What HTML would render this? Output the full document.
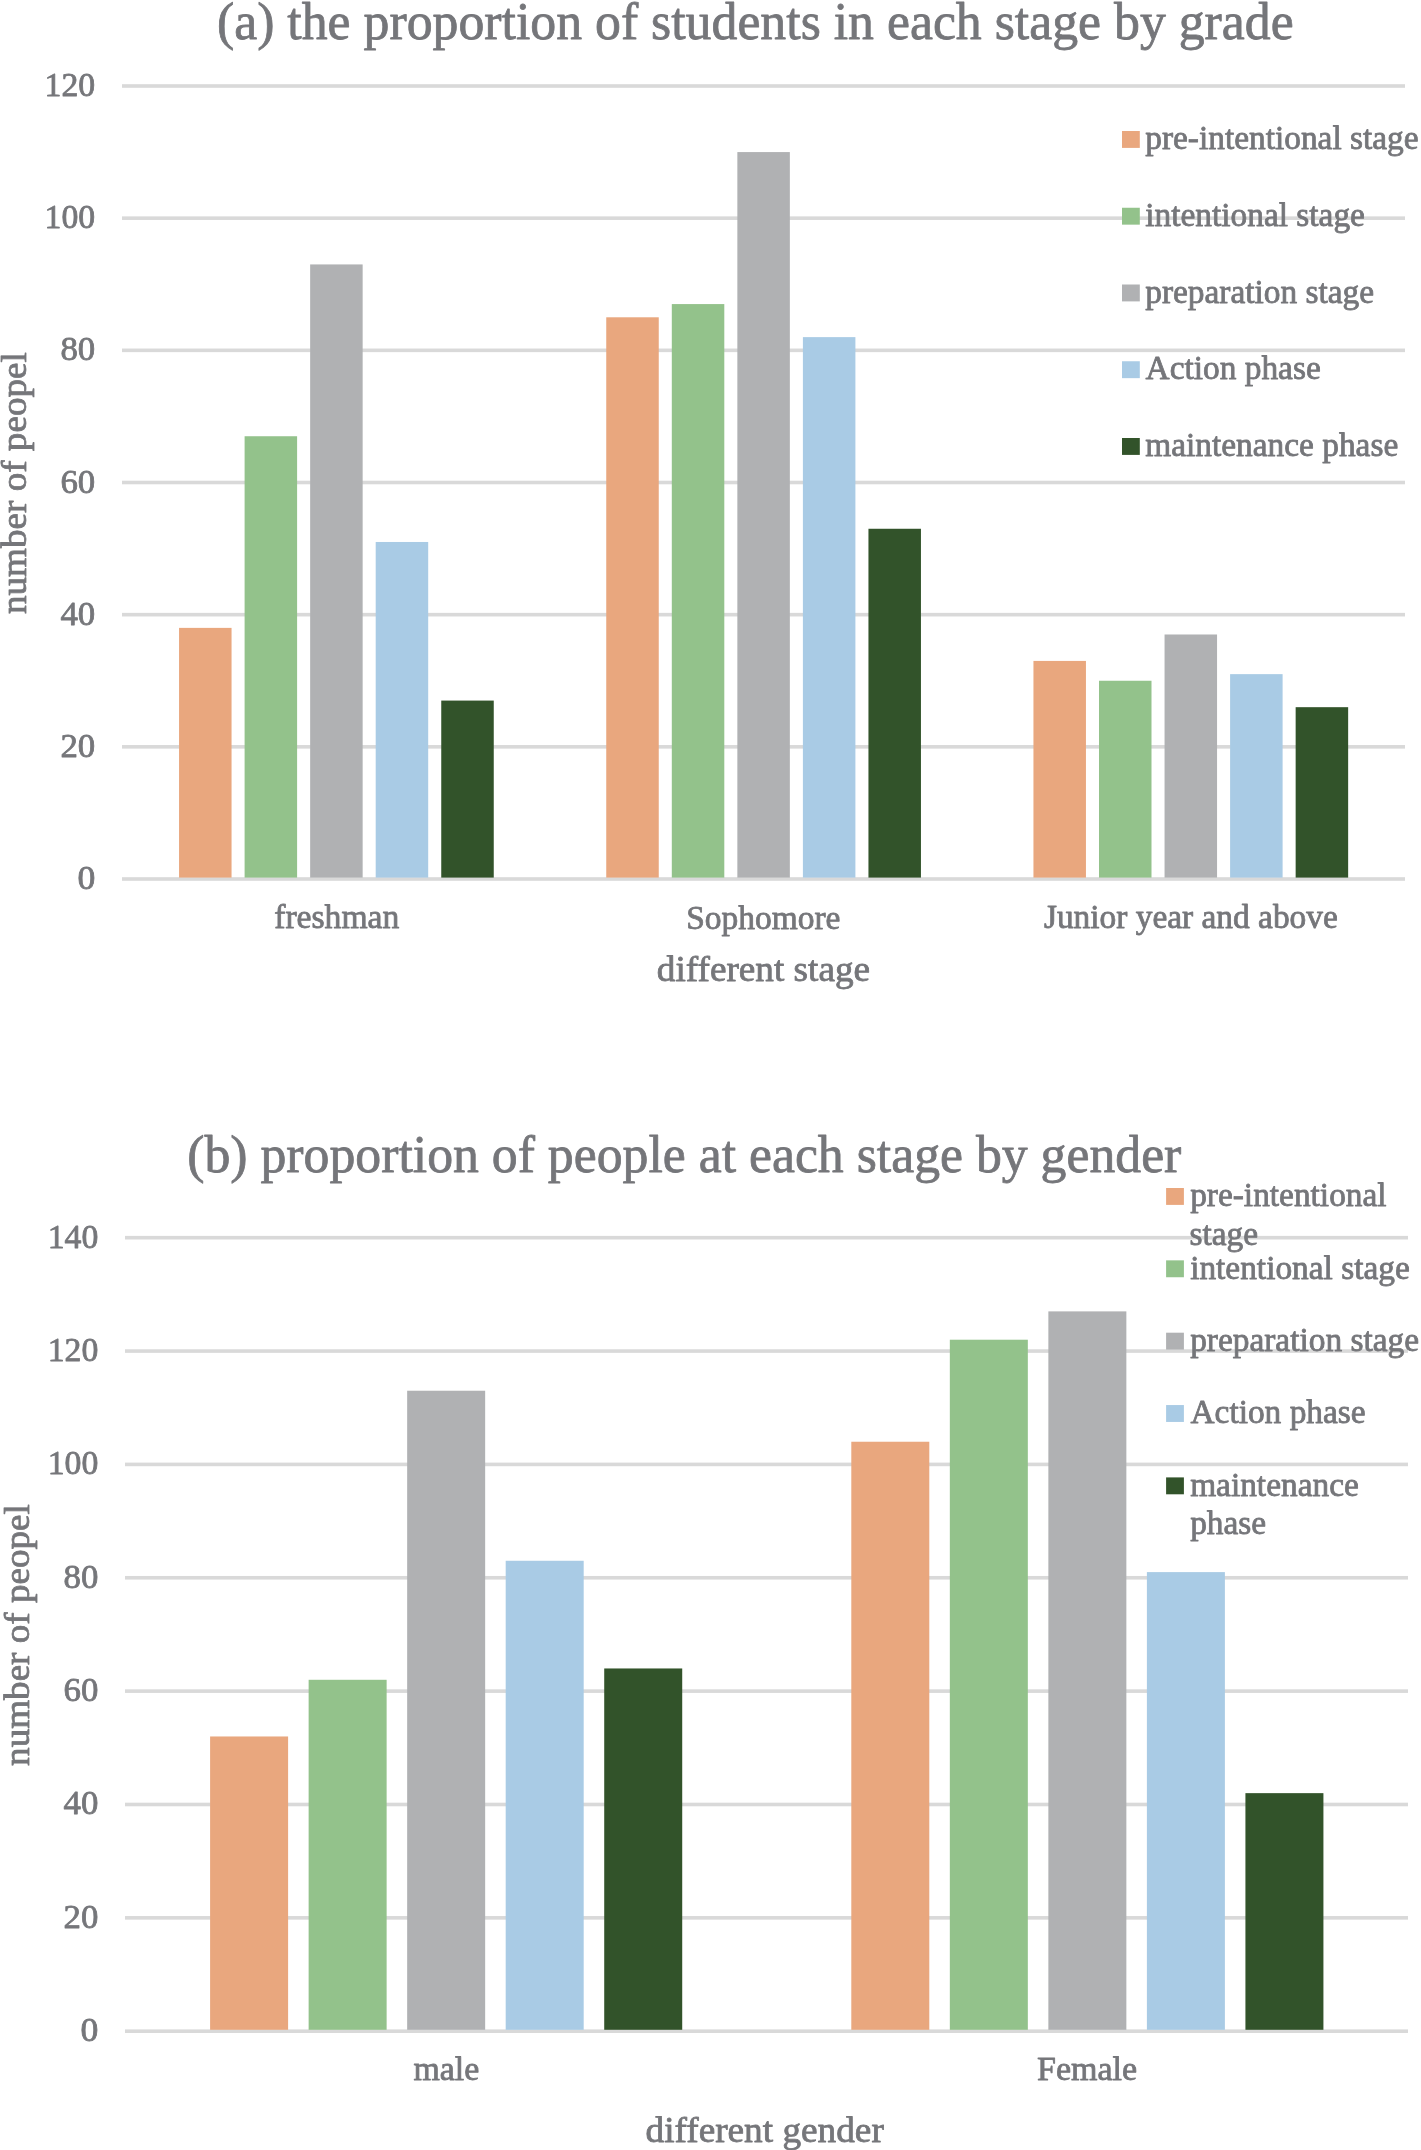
<!DOCTYPE html>
<html><head><meta charset="utf-8"><style>
html,body{margin:0;padding:0;background:#fff;}
body{width:1421px;height:2150px;overflow:hidden;}
svg{display:block;font-family:"Liberation Serif",serif;will-change:transform;}
text{stroke:#75767a;stroke-width:0.8px;stroke-linejoin:round;}
</style></head><body>
<svg width="1421" height="2150" viewBox="0 0 1421 2150">
<rect width="1421" height="2150" fill="#fff"/>
<rect x="122" y="877.20" width="1283" height="3.6" fill="#d9d9d9"/>
<text transform="translate(77.49,889.00) scale(1.0650,1)" font-size="33.5" fill="#75767a">0</text>
<rect x="122" y="745.03" width="1283" height="3.6" fill="#d9d9d9"/>
<text transform="translate(60.45,756.83) scale(1.0400,1)" font-size="33.5" fill="#75767a">20</text>
<rect x="122" y="612.87" width="1283" height="3.6" fill="#d9d9d9"/>
<text transform="translate(60.45,624.67) scale(1.0400,1)" font-size="33.5" fill="#75767a">40</text>
<rect x="122" y="480.70" width="1283" height="3.6" fill="#d9d9d9"/>
<text transform="translate(60.45,492.50) scale(1.0400,1)" font-size="33.5" fill="#75767a">60</text>
<rect x="122" y="348.53" width="1283" height="3.6" fill="#d9d9d9"/>
<text transform="translate(60.45,360.33) scale(1.0400,1)" font-size="33.5" fill="#75767a">80</text>
<rect x="122" y="216.37" width="1283" height="3.6" fill="#d9d9d9"/>
<text transform="translate(44.60,228.17) scale(1.0080,1)" font-size="33.5" fill="#75767a">100</text>
<rect x="122" y="84.20" width="1283" height="3.6" fill="#d9d9d9"/>
<text transform="translate(44.60,96.00) scale(1.0080,1)" font-size="33.5" fill="#75767a">120</text>
<rect x="179.05" y="627.88" width="52.5" height="249.72" fill="#e9a77e"/>
<rect x="244.60" y="436.24" width="52.5" height="441.36" fill="#93c28b"/>
<rect x="310.15" y="264.42" width="52.5" height="613.18" fill="#b0b1b3"/>
<rect x="375.70" y="541.98" width="52.5" height="335.62" fill="#a9cbe5"/>
<rect x="441.25" y="700.58" width="52.5" height="177.02" fill="#32532a"/>
<rect x="606.25" y="317.29" width="52.5" height="560.31" fill="#e9a77e"/>
<rect x="671.80" y="304.08" width="52.5" height="573.52" fill="#93c28b"/>
<rect x="737.35" y="152.08" width="52.5" height="725.52" fill="#b0b1b3"/>
<rect x="802.90" y="337.12" width="52.5" height="540.48" fill="#a9cbe5"/>
<rect x="868.45" y="528.76" width="52.5" height="348.84" fill="#32532a"/>
<rect x="1033.45" y="660.92" width="52.5" height="216.68" fill="#e9a77e"/>
<rect x="1099.00" y="680.75" width="52.5" height="196.85" fill="#93c28b"/>
<rect x="1164.55" y="634.49" width="52.5" height="243.11" fill="#b0b1b3"/>
<rect x="1230.10" y="674.14" width="52.5" height="203.46" fill="#a9cbe5"/>
<rect x="1295.65" y="707.18" width="52.5" height="170.42" fill="#32532a"/>
<text transform="translate(274.19,928.10) scale(1.0015,1)" font-size="33.6" fill="#75767a" >freshman</text>
<text transform="translate(686.16,928.50) scale(0.9958,1)" font-size="33.6" fill="#75767a" >Sophomore</text>
<text transform="translate(1043.93,928.30) scale(0.9939,1)" font-size="33.6" fill="#75767a" >Junior year and above</text>
<text transform="translate(656.81,980.90) scale(1.0202,1)" font-size="36.5" fill="#75767a" >different stage</text>
<text transform="translate(216.93,38.80) scale(0.9865,1)" font-size="52.5" fill="#75767a" >(a) the proportion of students in each stage by grade</text>
<text transform="translate(26.00,614.00) rotate(-90) scale(1.0230,1)" font-size="36.3" fill="#75767a">number of peopel</text>
<rect x="1122" y="131.00" width="17.8" height="16.9" fill="#e9a77e"/>
<text transform="translate(1145.23,149.20) scale(0.9880,1)" font-size="33.8" fill="#75767a">pre-intentional stage</text>
<rect x="1122" y="207.75" width="17.8" height="16.9" fill="#93c28b"/>
<text transform="translate(1145.23,225.95) scale(0.9880,1)" font-size="33.8" fill="#75767a">intentional stage</text>
<rect x="1122" y="284.50" width="17.8" height="16.9" fill="#b0b1b3"/>
<text transform="translate(1145.23,302.70) scale(0.9880,1)" font-size="33.8" fill="#75767a">preparation stage</text>
<rect x="1122" y="361.25" width="17.8" height="16.9" fill="#a9cbe5"/>
<text transform="translate(1145.57,379.45) scale(0.9880,1)" font-size="33.8" fill="#75767a">Action phase</text>
<rect x="1122" y="438.00" width="17.8" height="16.9" fill="#32532a"/>
<text transform="translate(1145.23,456.20) scale(0.9880,1)" font-size="33.8" fill="#75767a">maintenance phase</text>
<rect x="125" y="2029.40" width="1283" height="3.6" fill="#d9d9d9"/>
<text transform="translate(80.59,2041.20) scale(1.0650,1)" font-size="33.5" fill="#75767a">0</text>
<rect x="125" y="1916.04" width="1283" height="3.6" fill="#d9d9d9"/>
<text transform="translate(63.55,1927.84) scale(1.0400,1)" font-size="33.5" fill="#75767a">20</text>
<rect x="125" y="1802.69" width="1283" height="3.6" fill="#d9d9d9"/>
<text transform="translate(63.55,1814.49) scale(1.0400,1)" font-size="33.5" fill="#75767a">40</text>
<rect x="125" y="1689.33" width="1283" height="3.6" fill="#d9d9d9"/>
<text transform="translate(63.55,1701.13) scale(1.0400,1)" font-size="33.5" fill="#75767a">60</text>
<rect x="125" y="1575.97" width="1283" height="3.6" fill="#d9d9d9"/>
<text transform="translate(63.55,1587.77) scale(1.0400,1)" font-size="33.5" fill="#75767a">80</text>
<rect x="125" y="1462.61" width="1283" height="3.6" fill="#d9d9d9"/>
<text transform="translate(47.70,1474.41) scale(1.0080,1)" font-size="33.5" fill="#75767a">100</text>
<rect x="125" y="1349.26" width="1283" height="3.6" fill="#d9d9d9"/>
<text transform="translate(47.70,1361.06) scale(1.0080,1)" font-size="33.5" fill="#75767a">120</text>
<rect x="125" y="1235.90" width="1283" height="3.6" fill="#d9d9d9"/>
<text transform="translate(47.70,1247.70) scale(1.0080,1)" font-size="33.5" fill="#75767a">140</text>
<rect x="210.10" y="1736.47" width="78.0" height="293.33" fill="#e9a77e"/>
<rect x="308.63" y="1679.79" width="78.0" height="350.01" fill="#93c28b"/>
<rect x="407.16" y="1390.73" width="78.0" height="639.07" fill="#b0b1b3"/>
<rect x="505.69" y="1560.77" width="78.0" height="469.03" fill="#a9cbe5"/>
<rect x="604.22" y="1668.46" width="78.0" height="361.34" fill="#32532a"/>
<rect x="851.30" y="1441.74" width="78.0" height="588.06" fill="#e9a77e"/>
<rect x="949.83" y="1339.72" width="78.0" height="690.08" fill="#93c28b"/>
<rect x="1048.36" y="1311.38" width="78.0" height="718.42" fill="#b0b1b3"/>
<rect x="1146.89" y="1572.10" width="78.0" height="457.70" fill="#a9cbe5"/>
<rect x="1245.42" y="1793.15" width="78.0" height="236.65" fill="#32532a"/>
<text transform="translate(413.42,2080.10) scale(1.0078,1)" font-size="33.6" fill="#75767a" >male</text>
<text transform="translate(1036.98,2080.10) scale(1.0127,1)" font-size="33.6" fill="#75767a" >Female</text>
<text transform="translate(645.51,2141.90) scale(1.0212,1)" font-size="36.5" fill="#75767a" >different gender</text>
<text transform="translate(187.23,1172.30) scale(0.9858,1)" font-size="52.5" fill="#75767a" >(b) proportion of people at each stage by gender</text>
<text transform="translate(28.80,1765.90) rotate(-90) scale(1.0230,1)" font-size="36.3" fill="#75767a">number of peopel</text>
<rect x="1166.1" y="1188.00" width="17.8" height="16.9" fill="#e9a77e"/>
<text transform="translate(1190.13,1206.20) scale(0.9880,1)" font-size="33.8" fill="#75767a">pre-intentional</text>
<text transform="translate(1189.46,1244.70) scale(0.9880,1)" font-size="33.8" fill="#75767a">stage</text>
<rect x="1166.1" y="1260.35" width="17.8" height="16.9" fill="#93c28b"/>
<text transform="translate(1190.13,1278.60) scale(0.9880,1)" font-size="33.8" fill="#75767a">intentional stage</text>
<rect x="1166.1" y="1332.70" width="17.8" height="16.9" fill="#b0b1b3"/>
<text transform="translate(1190.13,1351.00) scale(0.9880,1)" font-size="33.8" fill="#75767a">preparation stage</text>
<rect x="1166.1" y="1405.05" width="17.8" height="16.9" fill="#a9cbe5"/>
<text transform="translate(1190.47,1423.40) scale(0.9880,1)" font-size="33.8" fill="#75767a">Action phase</text>
<rect x="1166.1" y="1477.40" width="17.8" height="16.9" fill="#32532a"/>
<text transform="translate(1190.13,1495.80) scale(0.9880,1)" font-size="33.8" fill="#75767a">maintenance</text>
<text transform="translate(1190.13,1534.30) scale(0.9880,1)" font-size="33.8" fill="#75767a">phase</text>
</svg>
</body></html>
